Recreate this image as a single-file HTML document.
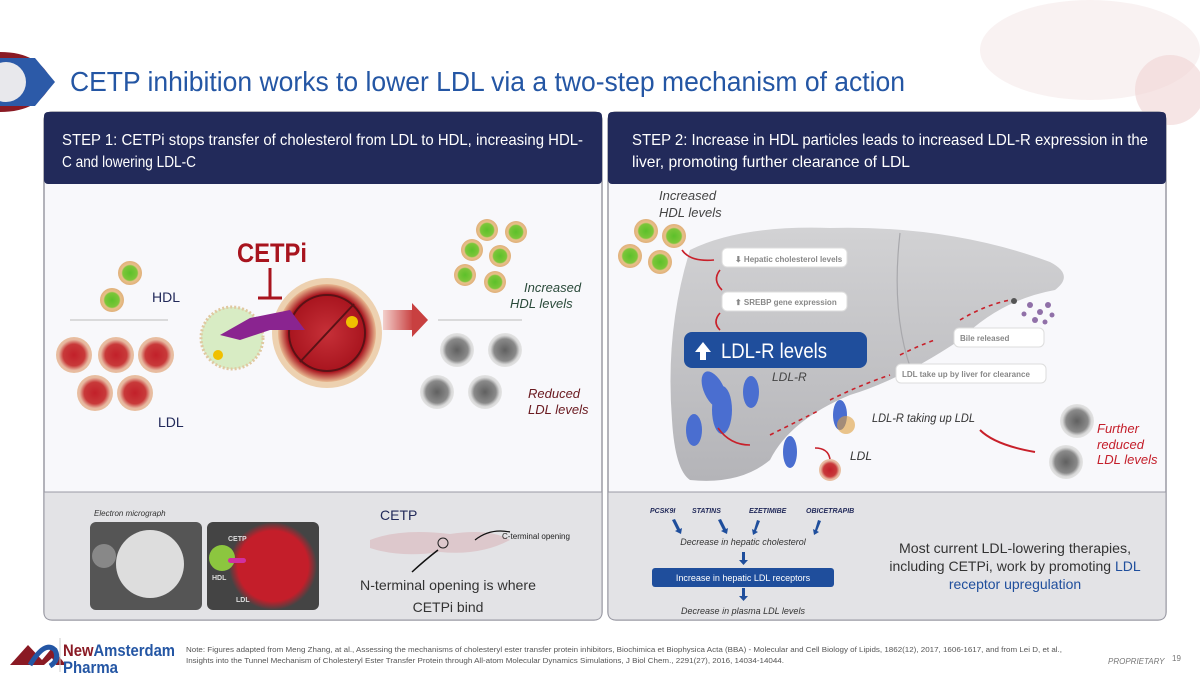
<!DOCTYPE html>
<html><head><meta charset="utf-8"><style>
body{margin:0;width:1200px;height:675px;overflow:hidden;background:#fff;font-family:"Liberation Sans",sans-serif}
text{font-family:"Liberation Sans",sans-serif}
</style></head><body>
<svg width="1200" height="675" viewBox="0 0 1200 675" xmlns="http://www.w3.org/2000/svg">
<defs>
<radialGradient id="hdl"><stop offset="0" stop-color="#5cc02a"/><stop offset=".6" stop-color="#7cc63a"/><stop offset=".72" stop-color="#e8c08a"/><stop offset="1" stop-color="#e0b07a"/></radialGradient>
<radialGradient id="ldl"><stop offset="0" stop-color="#c2202a"/><stop offset=".6" stop-color="#c83a3a"/><stop offset=".85" stop-color="#e7b8a0"/><stop offset="1" stop-color="#e8c0a0"/></radialGradient>
<radialGradient id="gry"><stop offset="0" stop-color="#606060"/><stop offset=".65" stop-color="#8a8a8a"/><stop offset=".85" stop-color="#d8d8d8"/><stop offset="1" stop-color="#e4e4e4"/></radialGradient>
<radialGradient id="big"><stop offset="0" stop-color="#c63038"/><stop offset=".8" stop-color="#a8141e"/><stop offset="1" stop-color="#e8b890"/></radialGradient>
<radialGradient id="micro"><stop offset="0" stop-color="#c41e2a"/><stop offset=".8" stop-color="#c41e2a"/><stop offset="1" stop-color="#444"/></radialGradient>
<linearGradient id="liver" x1="0" y1="0" x2="0" y2="1"><stop offset="0" stop-color="#d2d2d4"/><stop offset="1" stop-color="#b4b4b8"/></linearGradient>
<linearGradient id="arr" x1="0" x2="1"><stop offset="0" stop-color="#f3d0cc"/><stop offset="1" stop-color="#c84040"/></linearGradient>
</defs>
<ellipse cx="1090" cy="50" rx="110" ry="50" fill="#f6ecec" opacity=".7"/>
<ellipse cx="1170" cy="90" rx="35" ry="35" fill="#f0d4d4" opacity=".6"/>
<path d="M0 52 Q40 52 52 82 Q40 112 0 112Z" fill="#8a1a24"/>
<path d="M0 58 L35 58 L55 82 L35 106 L0 106Z" fill="#2c5aa8"/>
<circle cx="6" cy="82" r="20" fill="#e8e8ec"/>
<text x="70" y="91" font-size="28" fill="#2456a4" textLength="835" lengthAdjust="spacingAndGlyphs">CETP inhibition works to lower LDL via a two-step mechanism of action</text>
<rect x="44" y="112" width="558" height="508" rx="8" fill="#f8f8fb" stroke="#9a9aa4" stroke-width="1.5"/>
<rect x="608" y="112" width="558" height="508" rx="8" fill="#f8f8fb" stroke="#9a9aa4" stroke-width="1.5"/>
<path d="M44 492 H602 V612 Q602 620 594 620 H52 Q44 620 44 612Z" fill="#e3e3e6" stroke="#9a9aa4"/>
<path d="M608 492 H1166 V612 Q1166 620 1158 620 H616 Q608 620 608 612Z" fill="#e3e3e6" stroke="#9a9aa4"/>
<rect x="44" y="112" width="558" height="72" rx="4" fill="#222a5a"/>
<rect x="608" y="112" width="558" height="72" rx="4" fill="#222a5a"/>
<text font-size="16" fill="#fff"><tspan x="62" y="145" textLength="521" lengthAdjust="spacingAndGlyphs">STEP 1: CETPi stops transfer of cholesterol from LDL to HDL, increasing HDL-</tspan><tspan x="62" y="167" textLength="134" lengthAdjust="spacingAndGlyphs">C and lowering LDL-C</tspan></text>
<text font-size="16" fill="#fff"><tspan x="632" y="145" textLength="516" lengthAdjust="spacingAndGlyphs">STEP 2: Increase in HDL particles leads to increased LDL-R expression in the</tspan><tspan x="632" y="167" textLength="278" lengthAdjust="spacingAndGlyphs">liver, promoting further clearance of LDL</tspan></text>

<circle cx="130" cy="273" r="12" fill="url(#hdl)"/><circle cx="112" cy="300" r="12" fill="url(#hdl)"/>
<text x="152" y="302" font-size="14" fill="#222a5a">HDL</text>
<line x1="70" y1="320" x2="168" y2="320" stroke="#bbb"/>
<g fill="url(#ldl)"><circle cx="74" cy="355" r="18"/><circle cx="116" cy="355" r="18"/><circle cx="156" cy="355" r="18"/><circle cx="95" cy="393" r="18"/><circle cx="135" cy="393" r="18"/></g>
<text x="158" y="427" font-size="14" fill="#222a5a">LDL</text>
<text x="237" y="262" font-size="27" font-weight="bold" fill="#a8141e" textLength="70" lengthAdjust="spacingAndGlyphs">CETPi</text>
<line x1="270" y1="268" x2="270" y2="298" stroke="#a8141e" stroke-width="3"/><line x1="258" y1="298" x2="282" y2="298" stroke="#a8141e" stroke-width="3"/>
<circle cx="232" cy="338" r="31" fill="#d8ecc4" stroke="#e0c8a0" stroke-width="3" stroke-dasharray="2 2"/>
<circle cx="327" cy="333" r="55" fill="#e8c090" opacity=".7"/>
<circle cx="327" cy="333" r="49" fill="url(#big)"/>
<circle cx="327" cy="333" r="38" fill="none" stroke="#5a1216" stroke-width="2"/>
<line x1="300" y1="362" x2="354" y2="304" stroke="#5a1216" stroke-width="2"/>
<path d="M220 335 L250 318 L290 310 L305 330 L270 330 L240 340Z" fill="#8a2490"/>
<circle cx="352" cy="322" r="6" fill="#f0c000"/><circle cx="218" cy="355" r="5" fill="#f0c000"/>
<rect x="383" y="310" width="30" height="20" fill="url(#arr)"/><path d="M412 303 L428 320 L412 337Z" fill="#c84040"/>
<g fill="url(#hdl)"><circle cx="487" cy="230" r="11"/><circle cx="516" cy="232" r="11"/><circle cx="472" cy="250" r="11"/><circle cx="500" cy="256" r="11"/><circle cx="465" cy="275" r="11"/><circle cx="495" cy="282" r="11"/></g>
<text font-size="13" font-style="italic" fill="#2a4a3a"><tspan x="524" y="292">Increased</tspan><tspan x="510" y="308">HDL levels</tspan></text>
<line x1="438" y1="320" x2="522" y2="320" stroke="#bbb"/>
<g fill="url(#gry)"><circle cx="457" cy="350" r="17"/><circle cx="505" cy="350" r="17"/><circle cx="437" cy="392" r="17"/><circle cx="485" cy="392" r="17"/></g>
<text font-size="13" font-style="italic" fill="#6a1a20"><tspan x="528" y="398">Reduced</tspan><tspan x="528" y="414">LDL levels</tspan></text>

<text x="94" y="516" font-size="8" font-style="italic" fill="#333">Electron micrograph</text>
<rect x="90" y="522" width="112" height="88" rx="6" fill="#555"/>
<circle cx="150" cy="564" r="34" fill="#ddd"/><circle cx="104" cy="556" r="12" fill="#888"/>
<rect x="207" y="522" width="112" height="88" rx="6" fill="#444"/>
<circle cx="273" cy="566" r="44" fill="url(#micro)"/>
<circle cx="222" cy="558" r="13" fill="#8cc63f"/>
<rect x="228" y="558" width="18" height="5" rx="2.5" fill="#d030a0"/>
<text x="228" y="541" font-size="7" font-weight="bold" fill="#ddd">CETP</text>
<text x="212" y="580" font-size="7" font-weight="bold" fill="#ddd">HDL</text>
<text x="236" y="602" font-size="7" font-weight="bold" fill="#ddd">LDL</text>
<text x="380" y="520" font-size="14" fill="#222a5a">CETP</text>
<path d="M370 540 Q400 528 450 534 Q490 528 510 540 Q480 556 440 552 Q400 558 370 548Z" fill="#ddc8cc"/>
<circle cx="443" cy="543" r="5" fill="none" stroke="#222"/>
<path d="M412 572 Q425 560 438 550" stroke="#111" fill="none" stroke-width="1.5"/>
<path d="M475 540 Q490 528 510 532" stroke="#111" fill="none" stroke-width="1.2"/>
<text x="502" y="539" font-size="8" fill="#222" textLength="68" lengthAdjust="spacingAndGlyphs">C-terminal opening</text>
<text x="448" y="590" font-size="14" text-anchor="middle" fill="#333" textLength="176" lengthAdjust="spacingAndGlyphs">N-terminal opening is where</text>
<text x="448" y="612" font-size="14" text-anchor="middle" fill="#333">CETPi bind</text>

<path d="M690 250 Q740 225 830 228 Q950 225 1050 262 Q1075 275 1055 290 Q1000 300 960 340 Q900 380 850 395 Q790 420 770 460 Q740 485 690 480 Q675 470 672 420 Q665 330 690 250Z" fill="url(#liver)"/>
<path d="M900 233 Q890 320 915 380" stroke="#a8a8ac" fill="none" stroke-width="1.2"/>
<text font-size="13" font-style="italic" fill="#444"><tspan x="659" y="200">Increased</tspan><tspan x="659" y="217">HDL levels</tspan></text>
<g fill="url(#hdl)"><circle cx="646" cy="231" r="12"/><circle cx="674" cy="236" r="12"/><circle cx="630" cy="256" r="12"/><circle cx="660" cy="262" r="12"/></g>
<g fill="#fff" stroke="#ddd"><rect x="722" y="248" width="125" height="19" rx="5"/><rect x="722" y="292" width="125" height="19" rx="5"/><rect x="954" y="328" width="90" height="19" rx="5"/><rect x="896" y="364" width="150" height="19" rx="5"/></g>
<g font-size="8" font-weight="bold" fill="#888"><text x="735" y="262">⬇ Hepatic cholesterol levels</text><text x="735" y="305">⬆ SREBP gene expression</text><text x="960" y="341">Bile released</text><text x="902" y="377">LDL take up by liver for clearance</text></g>
<rect x="684" y="332" width="183" height="36" rx="8" fill="#1f4e9c"/>
<path d="M695 352 L703 342 L711 352 L706 352 L706 360 L700 360 L700 352Z" fill="#fff"/>
<text x="721" y="358" font-size="21" fill="#fff" textLength="106" lengthAdjust="spacingAndGlyphs">LDL-R levels</text>
<text x="772" y="381" font-size="12" font-style="italic" fill="#444">LDL-R</text>
<g fill="#4a6ed0"><ellipse cx="714" cy="390" rx="10" ry="20" transform="rotate(-25 714 390)"/><ellipse cx="722" cy="410" rx="10" ry="24"/><ellipse cx="751" cy="392" rx="8" ry="16"/><ellipse cx="694" cy="430" rx="8" ry="16"/><ellipse cx="790" cy="452" rx="7" ry="16"/><ellipse cx="840" cy="415" rx="7" ry="15"/></g>
<circle cx="846" cy="425" r="9" fill="#e0a040" opacity=".6"/>
<circle cx="830" cy="470" r="11" fill="url(#ldl)"/>
<text x="850" y="460" font-size="12" font-style="italic" fill="#333">LDL</text>
<text x="872" y="422" font-size="12" font-style="italic" fill="#333" textLength="103" lengthAdjust="spacingAndGlyphs">LDL-R taking up LDL</text>
<g stroke="#c8202a" fill="none" stroke-width="1.6"><path d="M682 250 Q690 262 714 260"/><path d="M720 270 Q712 280 722 290"/><path d="M720 313 Q712 322 720 330"/><path d="M718 428 Q730 445 750 445"/><path d="M830 459 Q828 448 815 448"/><path d="M980 430 Q995 445 1035 452" stroke-width="2"/>
<path d="M770 435 Q800 420 820 410 M830 400 Q860 385 890 375 M900 355 Q920 345 935 340 M960 320 Q985 305 1010 300" stroke-dasharray="4 4"/></g>
<circle cx="1014" cy="301" r="3" fill="#555"/>
<g fill="#9070a8"><circle cx="1030" cy="305" r="3"/><circle cx="1040" cy="312" r="3"/><circle cx="1035" cy="320" r="3"/><circle cx="1048" cy="305" r="3"/><circle cx="1045" cy="322" r="2.5"/><circle cx="1024" cy="314" r="2.5"/><circle cx="1052" cy="315" r="2.5"/></g>
<g fill="url(#gry)"><circle cx="1077" cy="421" r="17"/><circle cx="1066" cy="462" r="17"/></g>
<text font-size="13" font-style="italic" fill="#c41e2a"><tspan x="1097" y="433">Further</tspan><tspan x="1097" y="449">reduced</tspan><tspan x="1097" y="464">LDL levels</tspan></text>

<g font-size="7" font-style="italic" font-weight="bold" fill="#222a5a"><text x="650" y="513">PCSK9I</text><text x="692" y="513">STATINS</text><text x="749" y="513">EZETIMIBE</text><text x="806" y="513">OBICETRAPIB</text></g>
<g fill="#1f4e9c"><path d="M672 520 l3 -1 l5 10 l2 -1 l-1 6 l-6 -3 l2 -1z"/><path d="M718 520 l3 -1 l5 10 l2 -1 l-1 6 l-6 -3 l2 -1z"/><path d="M757 520 l3 1 l-4 10 l2 1 l-5 3 l-1 -6 l2 1z"/><path d="M818 520 l3 1 l-4 10 l2 1 l-5 3 l-1 -6 l2 1z"/>
<rect x="742" y="552" width="3" height="9"/><path d="M739 560 h9 l-4.5 5z"/><rect x="742" y="588" width="3" height="9"/><path d="M739 596 h9 l-4.5 5z"/></g>
<text x="743" y="545" font-size="9" font-style="italic" text-anchor="middle" fill="#333">Decrease in hepatic cholesterol</text>
<rect x="652" y="568" width="182" height="19" rx="3" fill="#1f4e9c"/>
<text x="743" y="581" font-size="9" text-anchor="middle" fill="#fff">Increase in hepatic LDL receptors</text>
<text x="743" y="614" font-size="9" font-style="italic" text-anchor="middle" fill="#333">Decrease in plasma LDL levels</text>
<text font-size="14" text-anchor="middle" fill="#333"><tspan x="1015" y="553" textLength="232" lengthAdjust="spacingAndGlyphs">Most current LDL-lowering therapies,</tspan><tspan x="1015" y="571">including CETPi, work by promoting <tspan fill="#1f4e9c">LDL</tspan></tspan><tspan x="1015" y="589" fill="#1f4e9c">receptor upregulation</tspan></text>

<path d="M10 665 L28 645 L42 660 L52 648 L66 665 L56 665 L52 658 L44 665Z" fill="#8a1a24"/>
<path d="M30 665 Q45 640 55 650 Q60 660 50 666" fill="none" stroke="#2456a4" stroke-width="5"/>
<line x1="60" y1="638" x2="60" y2="672" stroke="#ccc"/>
<text x="63" y="656" font-size="17" font-weight="bold" fill="#8a1a24" textLength="112" lengthAdjust="spacingAndGlyphs">New<tspan fill="#2456a4">Amsterdam</tspan></text>
<text x="63" y="673" font-size="17" font-weight="bold" fill="#2456a4" textLength="55" lengthAdjust="spacingAndGlyphs">Pharma</text>
<text font-size="7.5" fill="#555"><tspan x="186" y="652" textLength="876" lengthAdjust="spacingAndGlyphs">Note: Figures adapted from Meng Zhang, at al., Assessing the mechanisms of cholesteryl ester transfer protein inhibitors, Biochimica et Biophysica Acta (BBA) - Molecular and Cell Biology of Lipids, 1862(12), 2017, 1606-1617, and from Lei D, et al.,</tspan><tspan x="186" y="663" textLength="598" lengthAdjust="spacingAndGlyphs">Insights into the Tunnel Mechanism of Cholesteryl Ester Transfer Protein through All-atom Molecular Dynamics Simulations, J Biol Chem., 2291(27), 2016, 14034-14044.</tspan></text>
<text x="1108" y="664" font-size="8" font-style="italic" fill="#777">PROPRIETARY</text>
<text x="1172" y="661" font-size="8" fill="#777">19</text>
</svg>
</body></html>
